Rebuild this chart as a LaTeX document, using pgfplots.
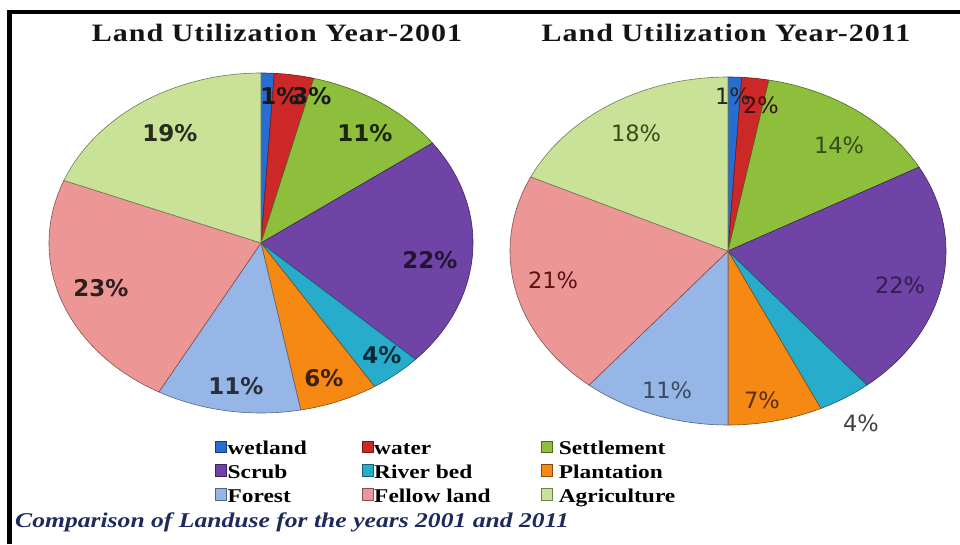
\documentclass[border=0pt]{standalone}
\usepackage{pgfplots}
\pgfplotsset{compat=1.18}
\usepackage{pgfplotstable}
\usepackage{fontspec}
\setmainfont{Liberation Serif}
\newfontfamily\serifwide[FakeStretch=1.2]{Liberation Serif}
\newfontfamily\capfont[FakeStretch=1.22]{Liberation Serif}
\newfontfamily\titlefont[FakeStretch=1.2,LetterSpace=4]{Liberation Serif}
\newfontfamily\pctfont{DejaVu Sans}

\definecolor{cWet}{RGB}{40,110,210}
\definecolor{cWater}{RGB}{205,40,40}
\definecolor{cSettle}{RGB}{141,190,60}
\definecolor{cScrub}{RGB}{112,68,166}
\definecolor{cRiver}{RGB}{40,172,204}
\definecolor{cPlant}{RGB}{246,136,20}
\definecolor{cForest}{RGB}{150,182,232}
\definecolor{cFellow}{RGB}{236,150,150}
\definecolor{cAgri}{RGB}{202,226,152}
\definecolor{capblue}{RGB}{30,42,92}

% land use shares (%), 2001 and 2011
\pgfplotstableread{
A B
1 1
3 2
11 14
22 22
4 4
6 7
11 11
23 21
19 18
}\landuse

\pgfplotsset{
 slice0/.style={fill=cWet,draw=cWet!55!black,line width=0.6pt},
 slice1/.style={fill=cWater,draw=cWater!55!black,line width=0.6pt},
 slice2/.style={fill=cSettle,draw=cSettle!55!black,line width=0.6pt},
 slice3/.style={fill=cScrub,draw=cScrub!55!black,line width=0.6pt},
 slice4/.style={fill=cRiver,draw=cRiver!55!black,line width=0.6pt},
 slice5/.style={fill=cPlant,draw=cPlant!55!black,line width=0.6pt},
 slice6/.style={fill=cForest,draw=cForest!55!black,line width=0.6pt},
 slice7/.style={fill=cFellow,draw=cFellow!55!black,line width=0.6pt},
 slice8/.style={fill=cAgri,draw=cAgri!55!black,line width=0.6pt},
}

\newcommand\drawpie[1]{%
  \def\cum{0}%
  \pgfplotsforeachungrouped \i in {0,...,8}{%
    \pgfplotstablegetelem{\i}{#1}\of\landuse
    \pgfmathsetmacro\aStart{90-3.6*\cum}%
    \pgfmathsetmacro\cum{\cum+\pgfplotsretval}%
    \pgfmathsetmacro\aEnd{90-3.6*\cum}%
    \edef\cmd{\noexpand\addplot[slice\i, domain=\aEnd:\aStart, samples=60] ({cos(x)},{sin(x)}) -- (axis cs:0,0) -- cycle;}%
    \cmd
  }%
}

\newcommand\lbl[4]{\node[#4] at (#1pt,{544pt-#2pt}) {#3};}

\begin{document}
\begin{tikzpicture}
\path[use as bounding box] (0pt,0pt) rectangle (960pt,544pt);
\draw[line width=4.5pt, line join=miter] (9.5pt,0pt) -- (9.5pt,532pt) -- (960pt,532pt);

\begin{axis}[hide axis, clip=false, anchor=origin, at={(261pt,301pt)},
  x=212pt, y=170pt, xmin=-1, xmax=1, ymin=-1, ymax=1]
\drawpie{A}
\end{axis}

\begin{axis}[hide axis, clip=false, anchor=origin, at={(728pt,293pt)},
  x=218pt, y=174pt, xmin=-1, xmax=1, ymin=-1, ymax=1]
\drawpie{B}
\end{axis}

% titles
\node[anchor=base, font=\titlefont\bfseries\fontsize{25}{30}\selectfont, text=black!92]
  at (277pt,502pt) {Land Utilization Year-2001};
\node[anchor=base, font=\titlefont\bfseries\fontsize{25}{30}\selectfont, text=black!92]
  at (726pt,502pt) {Land Utilization Year-2011};

% percentage labels
\tikzset{pA/.style={font=\pctfont\bfseries\fontsize{23}{26}\selectfont, inner sep=0pt},
         pB/.style={font=\pctfont\fontsize{22.5}{26}\selectfont, inner sep=0pt}}
\lbl{280}{96}{1\%}{pA, text=black!90}
\lbl{312}{96}{3\%}{pA, text=black!90}
\lbl{365}{133}{11\%}{pA, text=cSettle!20!black}
\lbl{430}{260}{22\%}{pA, text=cScrub!30!black}
\lbl{382}{355}{4\%}{pA, text=cRiver!25!black}
\lbl{324}{378}{6\%}{pA, text=cPlant!25!black}
\lbl{236}{386}{11\%}{pA, text=cForest!20!black!95}
\lbl{101}{288}{23\%}{pA, text=cFellow!20!black}
\lbl{170}{133}{19\%}{pA, text=cAgri!20!black}
\lbl{733}{96}{1\%}{pB, text=black!85}
\lbl{761}{105}{2\%}{pB, text=cWater!30!black}
\lbl{839}{145}{14\%}{pB, text=cSettle!40!black}
\lbl{900}{285}{22\%}{pB, text=cScrub!45!black}
\lbl{861}{423}{4\%}{pB, text=black!75}
\lbl{762}{400}{7\%}{pB, text=cPlant!35!black}
\lbl{667}{390}{11\%}{pB, text=cForest!40!black}
\lbl{553}{280}{21\%}{pB, text=cWater!45!black}
\lbl{636}{133}{18\%}{pB, text=cSettle!40!black}

% legend
\begin{axis}[hide axis, scale only axis, width=10pt, height=10pt,
  at={(215pt,103.5pt)}, anchor=north west, xmin=0, xmax=1, ymin=0, ymax=1,
  legend columns=3, legend cell align=left,
  legend image code/.code={\draw[#1] (0pt,-2.5pt) rectangle (11pt,9pt);},
  legend style={draw=none, fill=none, at={(0,1)}, anchor=north west,
    inner sep=0pt, outer sep=0pt, row sep=5.5pt,
    font=\serifwide\bfseries\fontsize{19.5}{22}\selectfont,
    nodes={inner sep=0pt, text height=14pt, text depth=4pt}}]
\addlegendimage{slice0}
\addlegendimage{slice1}
\addlegendimage{slice2}
\addlegendimage{slice3}
\addlegendimage{slice4}
\addlegendimage{slice5}
\addlegendimage{slice6}
\addlegendimage{slice7}
\addlegendimage{slice8}
\legend{\hspace{1pt}\makebox[134pt][l]{wetland}, \hspace{1pt}\makebox[167pt][l]{water}, \hspace{6pt}Settlement,
        \hspace{1pt}\makebox[134pt][l]{Scrub}, \hspace{1pt}\makebox[167pt][l]{River bed}, \hspace{6pt}Plantation,
        \hspace{1pt}\makebox[134pt][l]{Forest}, \hspace{1pt}\makebox[167pt][l]{Fellow land}, \hspace{6pt}Agriculture}
\end{axis}

% caption
\node[anchor=base west, inner sep=0pt, text=capblue,
  font=\capfont\bfseries\itshape\fontsize{21}{24}\selectfont]
  at (15pt,17pt) {Comparison of Landuse for the years 2001 and 2011};
\end{tikzpicture}
\end{document}
